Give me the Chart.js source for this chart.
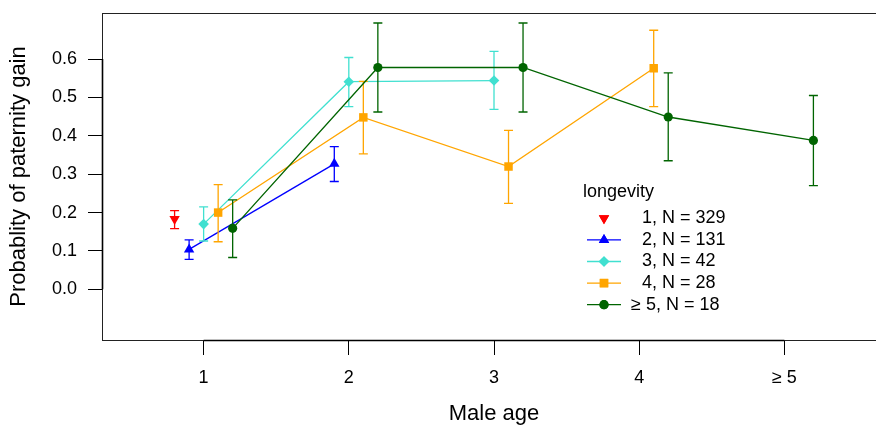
<!DOCTYPE html>
<html>
<head>
<meta charset="utf-8">
<script src="https://cdn.jsdelivr.net/npm/chart.js@4/dist/chart.umd.min.js"></script>
<style>
html,body{margin:0;padding:0;overflow:hidden;background:#fff;}
#wrap{width:892px;height:430px;position:relative;overflow:hidden;}
</style>
</head>
<body>
<div id="wrap"><canvas id="c" width="892" height="430"></canvas></div>
<script>
// ---- data ----
const ageTicks = [1, 2, 3, 4, 5];
const ageTickLabels = ["1", "2", "3", "4", "≥ 5"];
const probTicks = [0.0, 0.1, 0.2, 0.3, 0.4, 0.5, 0.6];
const longevityLabels = ["1", "2", "3", "4", "≥ 5"];
const longevityN = [329, 131, 42, 28, 18];

const probL1 = [0.183];
const lowL1  = [0.158];
const highL1 = [0.205];

const probL2 = [0.104, 0.327];
const lowL2  = [0.078, 0.281];
const highL2 = [0.129, 0.372];

const probL3 = [0.170, 0.541, 0.544];
const lowL3  = [0.126, 0.476, 0.469];
const highL3 = [0.215, 0.604, 0.620];

const probL4 = [0.200, 0.448, 0.320, 0.576];
const lowL4  = [0.124, 0.353, 0.224, 0.476];
const highL4 = [0.273, 0.542, 0.414, 0.675];

const probL5 = [0.159, 0.578, 0.578, 0.449, 0.388];
const lowL5  = [0.083, 0.462, 0.462, 0.335, 0.270];
const highL5 = [0.233, 0.694, 0.694, 0.564, 0.505];

const seriesProb = [probL1, probL2, probL3, probL4, probL5];
const seriesLow  = [lowL1, lowL2, lowL3, lowL4, lowL5];
const seriesHigh = [highL1, highL2, highL3, highL4, highL5];

// ---- styles ----
const colors = ["#FF0000", "#0000FF", "#40E0D0", "#FFA500", "#006400"];
const pStyles = ["triangle", "triangle", "rectRot", "rect", "circle"];
const pRot = [180, 0, 0, 0, 0];
const pRad = [6, 6, 5.3, 6, 4.6];
const dodge = [-0.2, -0.1, 0, 0.1, 0.2];
const FONT = "'Liberation Sans', Arial, Helvetica, sans-serif";

Chart.defaults.font.family = FONT;
Chart.defaults.font.size = 18;
Chart.defaults.color = '#000';

const datasets = seriesProb.map((vals, i) => ({
  label: longevityLabels[i] + ", N = " + longevityN[i],
  data: vals.map((v, j) => ({x: ageTicks[j] + dodge[i], y: v})),
  low: seriesLow[i],
  high: seriesHigh[i],
  borderColor: colors[i],
  backgroundColor: colors[i],
  borderWidth: 1.3,
  showLine: vals.length > 1,
  pointStyle: pStyles[i],
  rotation: pRot[i],
  pointRadius: pRad[i],
  pointBorderWidth: 0,
  pointBackgroundColor: colors[i],
  order: 5 - i,
  clip: false
}));

const errorBars = {
  id: 'errorBars',
  beforeDatasetDraw(chart, args) {
    const ds = chart.data.datasets[args.index];
    const xs = chart.scales.x, ys = chart.scales.y;
    const ctx = chart.ctx;
    ctx.save();
    ctx.strokeStyle = ds.borderColor;
    ctx.lineWidth = 1.3;
    ds.data.forEach((p, j) => {
      const px = xs.getPixelForValue(p.x);
      const y1 = ys.getPixelForValue(ds.low[j]);
      const y2 = ys.getPixelForValue(ds.high[j]);
      ctx.beginPath();
      ctx.moveTo(px, y1); ctx.lineTo(px, y2);
      ctx.moveTo(px - 4.5, y1); ctx.lineTo(px + 4.5, y1);
      ctx.moveTo(px - 4.5, y2); ctx.lineTo(px + 4.5, y2);
      ctx.stroke();
    });
    ctx.restore();
  }
};

const frame = {
  id: 'frame',
  afterDraw(chart) {
    const {ctx, chartArea: a, scales: {x, y}} = chart;
    ctx.save();
    ctx.strokeStyle = '#222';
    ctx.lineWidth = 1;
    ctx.strokeRect(a.left + 0.5, a.top + 0.5, a.right - a.left, a.bottom - a.top);
    ctx.strokeStyle = '#000';
    ctx.lineWidth = 1.6;
    ctx.beginPath();
    ctx.moveTo(x.getPixelForValue(ageTicks[0]), a.bottom + 0.5);
    ctx.lineTo(x.getPixelForValue(ageTicks[ageTicks.length - 1]), a.bottom + 0.5);
    ctx.moveTo(a.left + 0.5, y.getPixelForValue(probTicks[0]));
    ctx.lineTo(a.left + 0.5, y.getPixelForValue(probTicks[probTicks.length - 1]));
    ctx.stroke();
    ctx.restore();
  }
};

const legendBox = {
  id: 'legendBox',
  afterDraw(chart) {
    const ctx = chart.ctx;
    ctx.save();
    ctx.fillStyle = '#000';
    ctx.font = "18px " + FONT;
    ctx.textBaseline = 'middle';
    ctx.textAlign = 'left';
    ctx.fillText('longevity', 583, 192.5);
    const rowY0 = 218.3, dy = 21.6, lineX1 = 587, lineX2 = 621, mx = 604, tx = 642;
    chart.data.datasets.forEach((ds, i) => {
      const yy = rowY0 + i * dy;
      if (ds.showLine) {
        ctx.strokeStyle = ds.borderColor;
        ctx.lineWidth = 1.3;
        ctx.beginPath(); ctx.moveTo(lineX1, yy); ctx.lineTo(lineX2, yy); ctx.stroke();
      }
      ctx.fillStyle = ds.backgroundColor;
      Chart.helpers.drawPoint(ctx, {pointStyle: ds.pointStyle, rotation: ds.rotation, radius: ds.pointRadius, borderWidth: 0}, mx, yy);
      ctx.fill();
      ctx.fillStyle = '#000';
      const lab = ds.label;
      let xx = tx;
      if (lab.startsWith('≥')) xx = tx - ctx.measureText('≥ ').width + 4;
      ctx.fillText(lab, xx, yy);
    });
    ctx.restore();
  }
};

new Chart(document.getElementById('c'), {
  type: 'line',
  data: {datasets},
  options: {
    responsive: false,
    animation: false,
    devicePixelRatio: 1,
    layout: {padding: {left: 0, right: 0, top: 13, bottom: 0}},
    plugins: {legend: {display: false}, tooltip: {enabled: false}},
    scales: {
      x: {
        type: 'linear',
        min: 0.3, max: 5.7,
        afterFit(s) { s.height = 90; s.paddingLeft = 0; s.paddingRight = 0; s.paddingTop = 0; s.paddingBottom = 0; },
        afterBuildTicks(s) { s.ticks = ageTicks.map(v => ({value: v})); },
        grid: {display: true, drawOnChartArea: false, drawTicks: true, tickLength: 15, color: '#000', lineWidth: 1},
        border: {display: false},
        ticks: {
          autoSkip: false, maxRotation: 0, padding: 12,
          color: '#000', font: {family: FONT, size: 18},
          callback: v => ageTickLabels[ageTicks.indexOf(v)]
        },
        title: {display: true, text: 'Male age', color: '#000', font: {family: FONT, size: 22}, padding: {top: 0, bottom: 3}}
      },
      y: {
        type: 'linear',
        min: -0.132, max: 0.72,
        afterFit(s) { s.width = 102; s.paddingLeft = 0; s.paddingRight = 0; s.paddingTop = 0; s.paddingBottom = 0; },
        afterBuildTicks(s) { s.ticks = probTicks.map(v => ({value: v})); },
        grid: {display: true, drawOnChartArea: false, drawTicks: true, tickLength: 14, color: '#000', lineWidth: 1},
        border: {display: false},
        ticks: {
          autoSkip: false, padding: 11,
          color: '#000', font: {family: FONT, size: 18},
          callback: v => v.toFixed(1)
        },
        title: {display: true, text: 'Probablity of paternity gain', color: '#000', font: {family: FONT, size: 22}, padding: {top: 6, bottom: 0}}
      }
    }
  },
  plugins: [errorBars, frame, legendBox]
});
</script>
</body>
</html>
